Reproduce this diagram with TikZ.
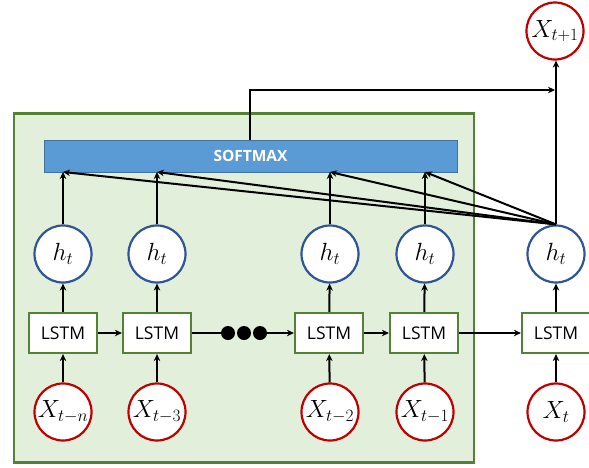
\documentclass[tikz,border=0pt]{standalone}
\usepackage{fontspec}
\setsansfont{Open Sans}
\usetikzlibrary{arrows.meta,positioning}
\definecolor{frameg}{RGB}{84,130,53}
\definecolor{fillg}{RGB}{226,239,218}
\definecolor{smfill}{RGB}{91,155,213}
\definecolor{smdraw}{RGB}{65,113,156}
\definecolor{hblue}{RGB}{47,85,151}
\definecolor{xred}{RGB}{192,0,0}
\tikzset{
  lstmbox/.style={draw=frameg,fill=white,line width=2.2pt,minimum width=68pt,minimum height=40pt,inner sep=0pt,font=\sffamily\fontsize{17.5}{20}\selectfont},
  hnode/.style={circle,draw=hblue,fill=white,line width=2.2pt,minimum size=57pt,inner sep=0pt,font=\fontsize{26}{30}\selectfont},
  xnode/.style={circle,draw=xred,fill=white,line width=2.2pt,minimum size=57pt,inner sep=0pt,font=\fontsize{25}{30}\selectfont},
  dotnode/.style={circle,fill=black,minimum size=14pt,inner sep=0pt},
  conn/.style={line width=2pt,-{Stealth[length=7pt,width=6.5pt]}},
  plain/.style={line width=2pt}
}
\begin{document}
\begin{tikzpicture}[x=1pt,y=-1pt]
\useasboundingbox (0,0) rectangle (589,467);
% frame
\node[draw=frameg,fill=fillg,line width=2.5pt,minimum width=460pt,minimum height=349pt,inner sep=0pt] (frame) at (244,288) {};
% softmax
\node[draw=smdraw,fill=smfill,line width=0.8pt,minimum width=413pt,minimum height=32pt,inner sep=0pt,text=white,font=\sffamily\bfseries\fontsize{15.5}{18}\selectfont] (sm) at (250.5,156) {SOFTMAX};
% h nodes
\node[hnode] (h1) at (63,254) {$h_t$};
\node[hnode] (h2) at (157,254) {$h_t$};
\node[hnode] (h3) at (330,254) {$h_t$};
\node[hnode] (h4) at (425,254) {$h_t$};
\node[hnode] (h5) at (556,254) {$h_t$};
% LSTM
\node[lstmbox] (l1) at (63,333) {LSTM};
\node[lstmbox] (l2) at (157,333) {LSTM};
\node[lstmbox] (l3) at (329,333) {LSTM};
\node[lstmbox] (l4) at (424,333) {LSTM};
\node[lstmbox] (l5) at (556,333) {LSTM};
% X
\node[xnode] (x1) at (63,412) {$X_{t-n}$};
\node[xnode] (x2) at (157,412) {$X_{t-3}$};
\node[xnode] (x3) at (330,412) {$X_{t-2}$};
\node[xnode] (x4) at (425,412) {$X_{t-1}$};
\node[xnode] (x5) at (556,412) {$X_{t}$};
\node[xnode] (xo) at (555,31) {$X_{t+1}$};
% dots
\node[dotnode] (d1) at (228,333) {};
\node[dotnode] (d2) at (244,333) {};
\node[dotnode] (d3) at (260,333) {};
% coordinates on softmax bottom
\coordinate (s1) at (63,172);
\coordinate (s2) at (157,172);
\coordinate (s3) at (330,172);
\coordinate (s4) at (425,172);
\coordinate (st) at (250,140);
\coordinate (corner) at (250,90);
\coordinate (join) at (555,90);
% X to LSTM
\foreach \i in {1,2,3,4} { \draw[conn] (x\i) -- (l\i); }
\draw[conn] (x5.north) -- (l5.south);
% LSTM to h
\draw[conn] (l1) -- (h1);
\draw[conn] (l2) -- (h2);
\draw[conn] (l3) -- (h3);
\draw[conn] (l4) -- (h4);
\draw[conn] (l5.north) -- (h5.south);
% chain
\draw[conn] (l1) -- (l2);
\draw[plain] (l2) -- (d1);
\draw[conn] (d3) -- (l3);
\draw[conn] (l3) -- (l4);
\draw[conn] (l4) -- (l5);
% h to softmax
\draw[conn] (h1) -- (s1);
\draw[conn] (h2) -- (s2);
\draw[conn] (h3) -- (s3);
\draw[conn] (h4) -- (s4);
\draw[conn] (h5.north) -- (s1);
\draw[conn] (h5.north) -- (s2);
\draw[conn] (h5.north) -- (s3);
\draw[conn] (h5.north) -- (s4);
% output
\draw[conn] (h5.north) -- (h5.north |- xo.south);
\draw[conn] (st) -- (corner) -- (join);
\end{tikzpicture}
\end{document}
